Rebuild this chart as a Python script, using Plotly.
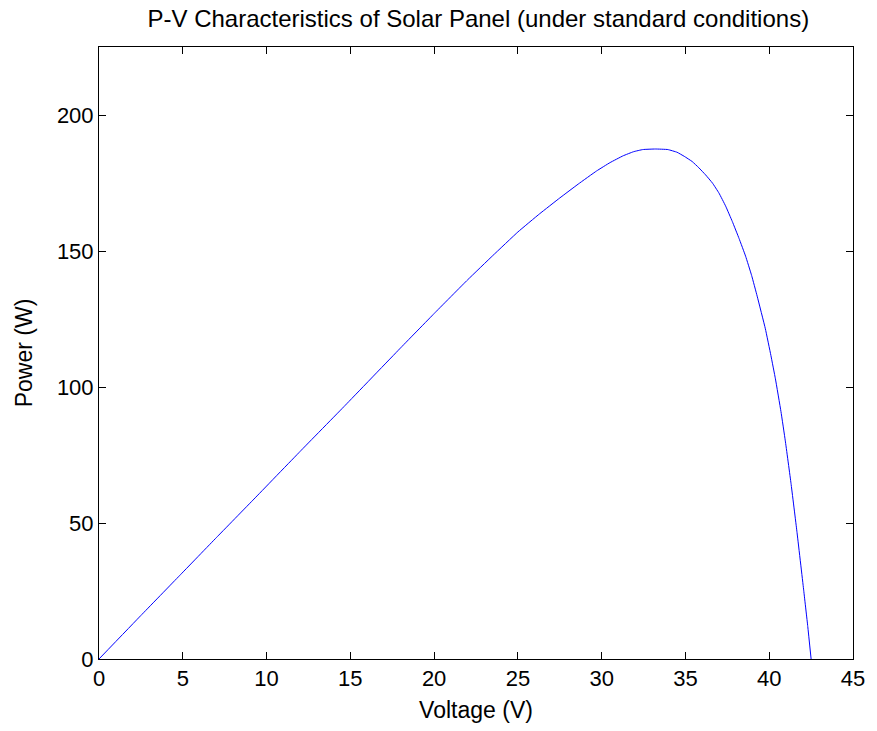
import plotly.graph_objects as go

# P-V curve of the solar panel, sampled along the trace
voltage_v = [0, 2.5, 4.8, 7.0, 9.25, 12.0, 14.7, 17.94, 20.0, 22.0, 23.5, 25.0,
             26.3, 27.5, 28.6, 29.69, 30.5, 31.28, 31.9, 32.46, 33.2, 33.95, 34.5,
             34.93, 35.4, 35.8, 36.2, 36.61, 37.0, 37.4, 37.8, 38.2, 38.59, 38.95,
             39.28, 39.77, 40.1, 40.37, 40.7, 40.96, 41.3, 41.65, 42.05, 42.3, 42.5]
power_w = [0, 16.0, 30.6, 44.6, 58.8, 76.3, 93.3, 114.0, 127.0, 139.4, 148.3, 157.0,
           163.7, 169.5, 174.6, 179.4, 182.5, 185.0, 186.5, 187.3, 187.5, 187.3, 186.3,
           184.8, 182.9, 180.6, 178.0, 175.0, 171.3, 166.5, 160.8, 154.6, 148.1, 141.0,
           133.4, 121.4, 111.6, 103.0, 91.0, 80.2, 64.6, 47.0, 25.7, 12.0, 0]

x_ticks = [0, 5, 10, 15, 20, 25, 30, 35, 40, 45]
y_ticks = [0, 50, 100, 150, 200]

FONT = "Liberation Sans, Arial, Helvetica, sans-serif"
SIZE = 24

fig = go.Figure()
fig.add_trace(go.Scatter(
    x=voltage_v, y=power_w, mode="lines",
    line=dict(color="#0000ff", width=1, shape="spline", smoothing=0.3),
    hoverinfo="x+y", showlegend=False,
))

axis_common = dict(
    showgrid=False, zeroline=False, showline=True, linecolor="black", linewidth=1,
    mirror="ticks", ticks="inside", ticklen=7, tickwidth=1, tickcolor="black",
    tickfont=dict(family=FONT, size=22, color="black"),
)

fig.update_layout(
    width=877, height=731,
    margin=dict(l=99, r=19, t=47, b=71),
    paper_bgcolor="white", plot_bgcolor="white",
    title=dict(
        text="P-V Characteristics of Solar Panel (under standard conditions)",
        font=dict(family=FONT, size=SIZE, color="black"),
        x=0.5454, xanchor="center", y=1 - 19 / 731, yanchor="middle", yref="container",
    ),
    xaxis=dict(
        range=[0, 45], tickvals=x_ticks, ticktext=[str(t) for t in x_ticks],
        title=dict(text="Voltage (V)", font=dict(family=FONT, size=23, color="black"), standoff=11),
        **axis_common,
    ),
    yaxis=dict(
        range=[0, 225], tickvals=y_ticks, ticktext=[str(t) for t in y_ticks],
        title=dict(text="Power (W)", font=dict(family=FONT, size=23, color="black"), standoff=17),
        **axis_common,
    ),
)

fig.write_html("out.html")
